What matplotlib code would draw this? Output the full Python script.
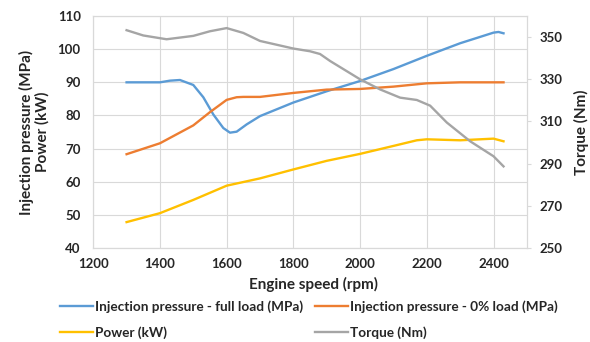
import matplotlib
matplotlib.use("Agg")
import matplotlib.pyplot as plt

plt.rcParams.update({
    "font.family": ["Lato", "DejaVu Sans"],
    "font.size": 9,
})

# ---- data ----
rpm_full = [1300, 1400, 1430, 1460, 1500, 1530, 1560, 1590, 1610, 1630, 1660, 1700, 1800, 1900, 2000, 2100, 2200, 2300, 2400, 2415, 2430]
inj_full = [90.0, 90.0, 90.5, 90.7, 89.2, 85.5, 80.3, 76.2, 74.8, 75.1, 77.3, 79.8, 83.9, 87.3, 90.4, 94.0, 98.0, 101.8, 105.0, 105.2, 104.8]

rpm_zero = [1300, 1400, 1500, 1550, 1600, 1630, 1650, 1700, 1800, 1900, 2000, 2100, 2200, 2300, 2400, 2430]
inj_zero = [68.3, 71.6, 77.0, 81.0, 84.7, 85.5, 85.6, 85.6, 86.8, 87.8, 88.0, 88.7, 89.7, 90.0, 90.0, 90.0]

rpm_power = [1300, 1400, 1500, 1600, 1700, 1800, 1900, 2000, 2100, 2170, 2200, 2300, 2400, 2430]
power = [47.8, 50.5, 54.5, 58.8, 61.0, 63.7, 66.3, 68.4, 70.8, 72.5, 72.8, 72.5, 73.0, 72.2]

rpm_torque = [1300, 1350, 1420, 1500, 1550, 1600, 1650, 1700, 1800, 1850, 1880, 1910, 2000, 2060, 2120, 2170, 2210, 2260, 2330, 2400, 2430]
torque = [353.3, 350.8, 349.0, 350.6, 352.8, 354.3, 352.0, 348.2, 344.6, 343.3, 342.0, 338.7, 330.0, 325.2, 321.3, 320.2, 317.5, 309.5, 300.6, 293.5, 288.7]

x_ticks = [1200, 1400, 1600, 1800, 2000, 2200, 2400]
left_ticks = [40, 50, 60, 70, 80, 90, 100, 110]
right_ticks = [250, 270, 290, 310, 330, 350]

BLUE, ORANGE, YELLOW, GRAY = "#5B9BD5", "#ED7D31", "#FFC000", "#A5A5A5"
GRID = "#D9D9D9"
TXT = "#262626"

fig = plt.figure(figsize=(5.9, 3.42), dpi=100)
ax = fig.add_axes([0.158, 0.275, 0.735, 0.678])
ax2 = ax.twinx()

l1, = ax.plot(rpm_full, inj_full, color=BLUE, lw=1.7, label="Injection pressure - full load (MPa)")
l2, = ax.plot(rpm_zero, inj_zero, color=ORANGE, lw=1.7, label="Injection pressure - 0% load (MPa)")
l3, = ax.plot(rpm_power, power, color=YELLOW, lw=1.7, label="Power (kW)")
l4, = ax2.plot(rpm_torque, torque, color=GRAY, lw=1.7, label="Torque (Nm)")

ax.set_xlim(1200, 2500)
ax.set_ylim(40, 110)
ax2.set_ylim(250, 360)
ax.set_xticks(x_ticks)
ax.set_yticks(left_ticks)
ax2.set_yticks(right_ticks)

ax.grid(True, color=GRID, lw=0.8)
ax.set_axisbelow(True)
for a in (ax, ax2):
    for s in a.spines.values():
        s.set_color(GRID)
        s.set_linewidth(0.8)

ax.tick_params(axis="x", length=0, pad=7, labelsize=9.5, labelcolor=TXT)
ax.tick_params(axis="y", length=0, pad=9, labelsize=9.5, labelcolor=TXT)
ax2.tick_params(axis="y", length=3, color=GRID, pad=6, labelsize=9.5, labelcolor=TXT)
for lab in ax.get_xticklabels() + ax.get_yticklabels() + ax2.get_yticklabels():
    lab.set_fontweight("bold")

ax.set_xlabel("Engine speed (rpm)", fontsize=11, fontweight="bold", color=TXT)
ax.xaxis.set_label_coords(0.509, -0.125)
ax.set_ylabel("Injection pressure (MPa)\nPower (kW)", fontsize=11, fontweight="bold", color=TXT, linespacing=1.1)
ax.yaxis.set_label_coords(-0.10, 0.5)
ax2.set_ylabel("Torque (Nm)", fontsize=11, fontweight="bold", color=TXT)
ax2.yaxis.set_label_coords(1.108, 0.5)

# two single-column legends so the columns line up like the original
leg_kw = dict(loc="upper left", frameon=False, handlelength=2.4, handletextpad=0.15,
              labelspacing=1.0, borderaxespad=0, borderpad=0, labelcolor=TXT,
              prop={"size": 9.8, "weight": "bold"})
fig.legend(handles=[l1, l3], bbox_to_anchor=(60 / 590, 1 - 300 / 342), **leg_kw)
fig.legend(handles=[l2, l4], bbox_to_anchor=(315 / 590, 1 - 300 / 342), **leg_kw)

fig.savefig("out.png", dpi=100)
